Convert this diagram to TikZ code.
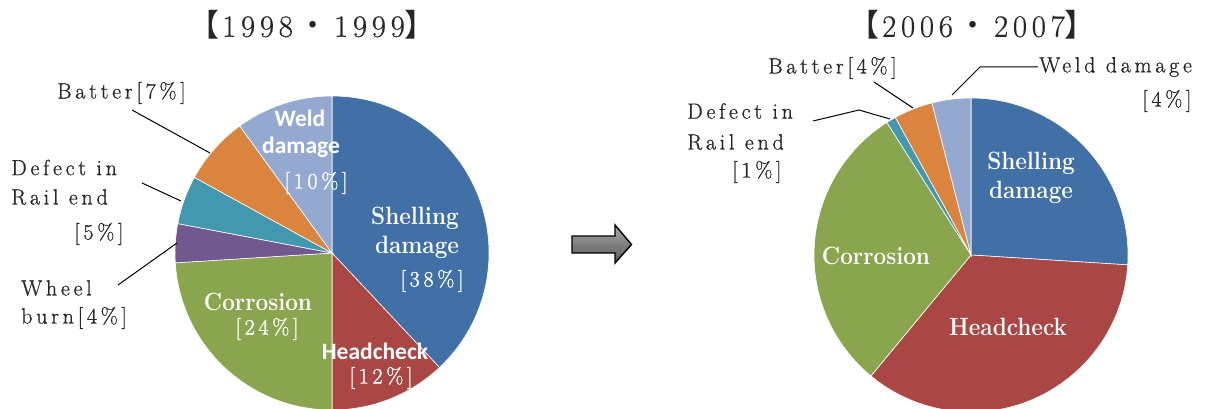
\documentclass[tikz,border=0pt]{standalone}
\usepackage{fontspec}
\setmainfont{Latin Modern Roman}
\newfontfamily\lbl[LetterSpace=17,FakeBold=0.8]{Latin Modern Roman}
\newfontfamily\lblw[LetterSpace=17,FakeBold=1.4]{Latin Modern Roman}
\newfontfamily\ttl[LetterSpace=15,FakeBold=0.5]{Latin Modern Roman}
\newfontfamily\bsf[FakeStretch=0.9]{Latin Modern Roman}
\newfontfamily\csans{Carlito}
\newfontfamily\cjk{Noto Sans CJK JP}
\definecolor{cshell}{HTML}{4170A6}
\definecolor{chead}{HTML}{AA4643}
\definecolor{ccorr}{HTML}{89A54E}
\definecolor{cwheel}{HTML}{71588F}
\definecolor{cdef}{HTML}{4198AF}
\definecolor{cbat}{HTML}{DB843D}
\definecolor{cweld}{HTML}{93A9CF}
\definecolor{ctext}{HTML}{262626}
\newcommand\pieslice[4]{\fill[#4, draw=white, line width=0.6pt] (#1) -- ++(#2:157) arc[start angle=#2, end angle=#3, radius=157] -- cycle;}
\begin{document}
\begin{tikzpicture}[x=1pt,y=1pt,
  outlbl/.style={font=\lbl\fontsize{22}{25}\selectfont, text=ctext, inner sep=0pt},
  inlbl/.style={font=\lblw\fontsize{22}{25}\selectfont, text=white, inner sep=0pt},
  boldlbl/.style={font=\bsf\bfseries\fontsize{25}{28}\selectfont, text=white, inner sep=0pt},
  sanslbl/.style={font=\csans\bfseries\fontsize{23.5}{26}\selectfont, text=white, inner sep=0pt},
  titlelbl/.style={font=\ttl\fontsize{31}{34}\selectfont, text=ctext, inner sep=0pt},
  leader/.style={draw=black, line width=1pt}]
\useasboundingbox (0,0) rectangle (1215,408);
\fill[white] (0,0) rectangle (1215,408);
\clip (0,0) rectangle (1215,408);

% ---------- left pie ----------
\coordinate (L) at (332,155);
\pieslice{L}{90}{-46.8}{cshell}
\pieslice{L}{-46.8}{-90}{chead}
\pieslice{L}{-90}{-176.4}{ccorr}
\pieslice{L}{-176.4}{-190.8}{cwheel}
\pieslice{L}{-190.8}{-208.8}{cdef}
\pieslice{L}{-208.8}{-234}{cbat}
\pieslice{L}{-234}{-270}{cweld}

\node[titlelbl] (t1) at (312,383) {{\cjk 【}\hspace{3pt}1998\hspace{4pt}{\cjk ・}\hspace{6pt}1999{\cjk 】}};

\node[sanslbl] (lweld1) at (300,290) {Weld};
\node[sanslbl] (lweld2) at (301,261) {damage};
\node[inlbl] (lweld3) at (316,225) {[10\%]};
\node[boldlbl] (lshell1) at (415,190) {Shelling};
\node[boldlbl] (lshell2) at (417,161) {damage};
\node[inlbl] (lshell3) at (432,127) {[38\%]};
\node[boldlbl] (lcorr1) at (258,106) {Corrosion};
\node[inlbl] (lcorr2) at (267,79) {[24\%]};
\node[sanslbl] (lhead1) at (375,57) {Headcheck};
\node[inlbl] (lhead2) at (381,30) {[12\%]};

\node[outlbl, anchor=west] (lbat) at (57,315) {Batter[7\%]};
\node[outlbl, anchor=west] (ldef1) at (11,240.5) {Defect in};
\node[outlbl, anchor=west] (ldef2) at (11,211) {Rail end};
\node[outlbl, anchor=west] (ldef3) at (74,174) {[5\%]};
\node[outlbl, anchor=west] (lwh1) at (21,120) {Wheel};
\node[outlbl, anchor=west] (lwh2) at (21,90) {burn[4\%]};

\coordinate (lb1) at (132,298); \coordinate (lb2) at (210,255);
\draw[leader] (lb1) -- (lb2);
\coordinate (ld1) at (142,225); \coordinate (ld2) at (181,207);
\draw[leader] (ld1) -- (ld2);
\coordinate (lw1) at (118,123); \coordinate (lw2) at (177,165);
\draw[leader] (lw1) -- (lw2);

% ---------- arrow ----------
\shadedraw[top color=black!35, bottom color=black!65, draw=black, line width=1.4pt, line join=miter]
  (572,172) -- (615,172) -- (615,183) -- (631.5,163.5) -- (615,145) -- (615,155) -- (572,155) -- cycle;

% ---------- right pie ----------
\coordinate (R) at (971,153);
\pieslice{R}{90}{-3.6}{cshell}
\pieslice{R}{-3.6}{-129.6}{chead}
\pieslice{R}{-129.6}{-237.6}{ccorr}
\pieslice{R}{-237.6}{-241.2}{cdef}
\pieslice{R}{-241.2}{-255.6}{cbat}
\pieslice{R}{-255.6}{-270}{cweld}

\node[titlelbl] (t2) at (972,383) {{\cjk 【}\hspace{3pt}2006\hspace{4pt}{\cjk ・}\hspace{6pt}2007{\cjk 】}};

\node[boldlbl] (rshell1) at (1031,245) {Shelling};
\node[boldlbl] (rshell2) at (1031,216) {damage};
\node[boldlbl] (rcorr) at (876,152) {Corrosion};
\node[boldlbl] (rhead) at (1008,81) {Headcheck};

\node[outlbl, anchor=west] (rbat) at (768,340) {Batter[4\%]};
\node[outlbl, anchor=west] (rweld1) at (1039,341) {Weld damage};
\node[outlbl, anchor=west] (rweld2) at (1142,307) {[4\%]};
\node[outlbl, anchor=west] (rdef1) at (687,297) {Defect in};
\node[outlbl, anchor=west] (rdef2) at (687,266) {Rail end};
\node[outlbl, anchor=west] (rdef3) at (732,236) {[1\%]};

\coordinate (rb1) at (874,326); \coordinate (rb2) at (913,300);
\draw[leader] (rb1) -- (rb2);
\coordinate (rw1) at (1038,341); \coordinate (rw2) at (980,341); \coordinate (rw3) at (952,313);
\draw[leader] (rw1) -- (rw2) -- (rw3);
\coordinate (rd1) at (813,287); \coordinate (rd2) at (859,298); \coordinate (rd3) at (890,289);
\draw[leader] (rd1) -- (rd2) -- (rd3);
\end{tikzpicture}
\end{document}
